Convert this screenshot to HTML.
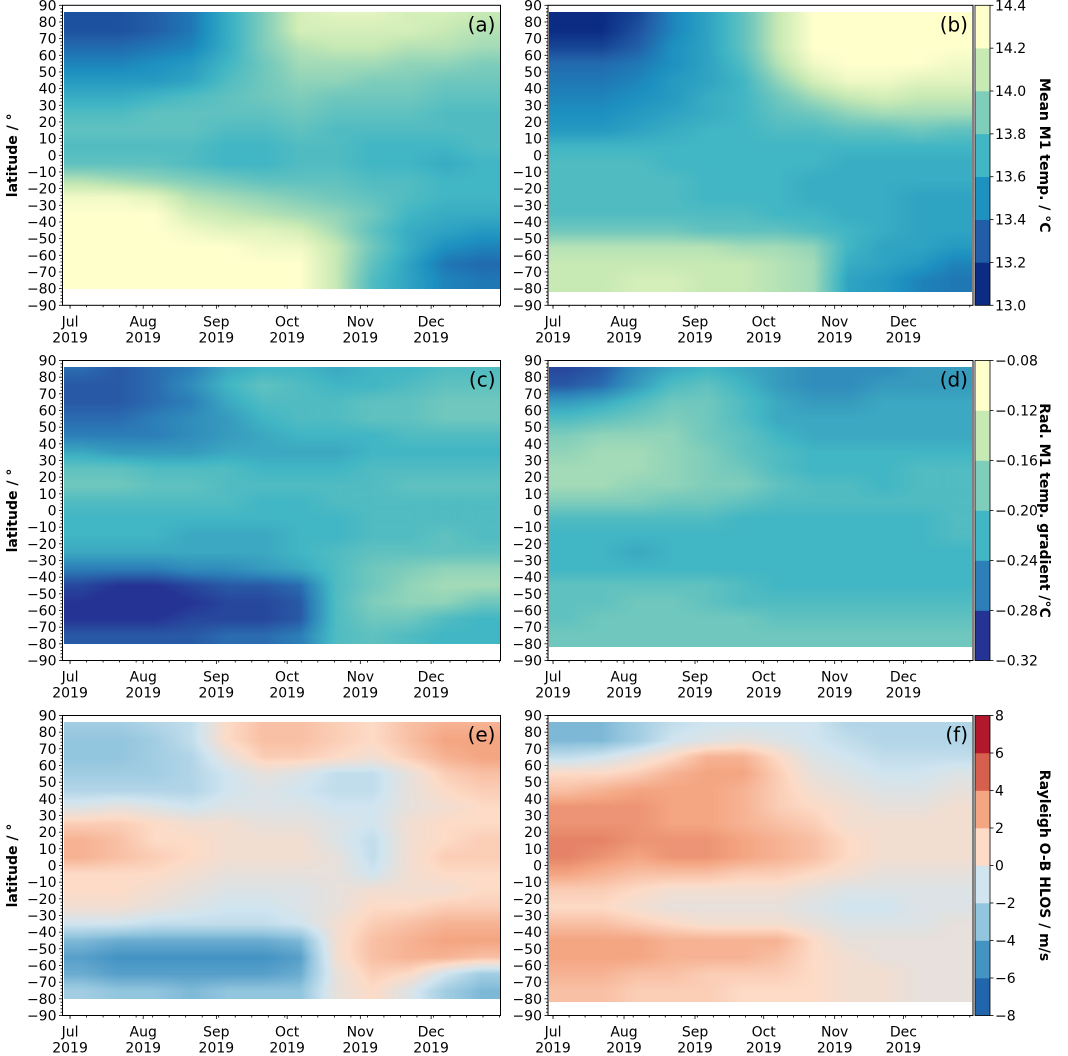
<!DOCTYPE html>
<html><head><meta charset="utf-8">
<style>
html,body{margin:0;padding:0;background:#fff;}
#wrap{position:relative;width:1068px;height:1056px;overflow:hidden;font-family:"DejaVu Sans","Liberation Sans",sans-serif;}
canvas{position:absolute;}
svg{position:absolute;left:0;top:0;}
</style></head>
<body>
<div id="wrap">
<svg id="ov" width="1068" height="1056"></svg>
</div>
<script>
// ---------- data ----------
const latRows = [85,75,65,55,45,35,25,15,5,-5,-15,-25,-35,-45,-55,-65,-75];
const timeCols = ["Jul-a","Jul-b","Aug-a","Aug-b","Sep-a","Sep-b","Oct-a","Oct-b","Nov-a","Nov-b","Dec-a","Dec-b"];
const monthTicks = ["Jul","Aug","Sep","Oct","Nov","Dec"];
const monthTickDays = [0,31,62,92,123,153];
const yTicks = [90,80,70,60,50,40,30,20,10,0,-10,-20,-30,-40,-50,-60,-70,-80,-90];
const cbTicksTemp = ["13.0","13.2","13.4","13.6","13.8","14.0","14.2","14.4"];
const cbTicksGrad = ["-0.32","-0.28","-0.24","-0.20","-0.16","-0.12","-0.08"];
const cbTicksHlos = ["-8","-6","-4","-2","0","2","4","6","8"];

const panelAValues = [
[13.25,13.25,13.3,13.4,13.65,13.9,14.15,14.2,14.2,14.15,14.15,14.1],
[13.25,13.25,13.3,13.4,13.65,13.9,14.15,14.15,14.15,14.15,14.1,14.05],
[13.35,13.35,13.4,13.45,13.65,13.9,14.05,14.1,14.1,14.05,14.05,14.0],
[13.45,13.45,13.5,13.55,13.7,13.85,14.0,14.0,14.0,13.95,13.95,13.9],
[13.55,13.55,13.55,13.6,13.75,13.85,13.95,13.95,13.9,13.9,13.85,13.85],
[13.65,13.65,13.7,13.75,13.8,13.85,13.9,13.85,13.85,13.85,13.8,13.8],
[13.75,13.75,13.8,13.8,13.8,13.8,13.85,13.8,13.8,13.8,13.75,13.75],
[13.8,13.8,13.8,13.8,13.75,13.75,13.8,13.75,13.75,13.75,13.75,13.75],
[13.75,13.75,13.75,13.75,13.7,13.7,13.75,13.75,13.7,13.7,13.7,13.75],
[13.8,13.8,13.8,13.75,13.7,13.7,13.75,13.75,13.7,13.7,13.65,13.7],
[14.05,14.0,13.95,13.9,13.85,13.8,13.8,13.8,13.75,13.75,13.7,13.7],
[14.25,14.25,14.2,14.05,14.0,13.95,13.9,13.85,13.8,13.75,13.7,13.7],
[14.3,14.3,14.3,14.15,14.1,14.05,14.0,13.95,13.85,13.7,13.65,13.65],
[14.3,14.3,14.3,14.25,14.2,14.2,14.15,14.0,13.8,13.65,13.6,13.55],
[14.3,14.3,14.3,14.3,14.3,14.25,14.25,14.1,13.85,13.65,13.5,13.45],
[14.3,14.3,14.3,14.3,14.3,14.3,14.3,14.1,13.8,13.6,13.4,13.35],
[14.3,14.3,14.3,14.3,14.3,14.3,14.3,14.1,13.75,13.6,13.45,13.4]];

const panelBValues = [
[13.1,13.1,13.2,13.45,13.6,13.8,14.1,14.3,14.3,14.3,14.3,14.3],
[13.1,13.1,13.25,13.45,13.6,13.8,14.1,14.3,14.3,14.3,14.3,14.3],
[13.2,13.2,13.3,13.5,13.6,13.8,14.1,14.3,14.3,14.3,14.3,14.3],
[13.35,13.35,13.4,13.5,13.6,13.75,14.05,14.25,14.3,14.3,14.3,14.25],
[13.4,13.4,13.45,13.55,13.6,13.7,13.95,14.15,14.25,14.25,14.2,14.2],
[13.45,13.45,13.5,13.55,13.65,13.7,13.85,14.0,14.1,14.15,14.1,14.1],
[13.5,13.5,13.55,13.6,13.65,13.7,13.8,13.85,13.95,14.0,14.0,14.0],
[13.55,13.55,13.6,13.65,13.7,13.7,13.75,13.75,13.8,13.8,13.85,13.8],
[13.7,13.7,13.7,13.7,13.7,13.7,13.7,13.7,13.7,13.7,13.7,13.7],
[13.75,13.75,13.75,13.7,13.7,13.7,13.7,13.7,13.65,13.65,13.65,13.65],
[13.75,13.75,13.75,13.75,13.7,13.7,13.7,13.65,13.65,13.65,13.65,13.65],
[13.75,13.75,13.75,13.75,13.7,13.7,13.7,13.65,13.65,13.65,13.6,13.6],
[13.75,13.75,13.75,13.75,13.75,13.75,13.7,13.7,13.65,13.65,13.6,13.6],
[13.85,13.85,13.85,13.85,13.8,13.8,13.8,13.75,13.7,13.65,13.6,13.6],
[14.05,14.05,14.05,14.05,14.05,14.0,14.0,13.95,13.7,13.6,13.6,13.55],
[14.1,14.1,14.1,14.1,14.1,14.1,14.05,14.0,13.65,13.6,13.55,13.45],
[14.1,14.1,14.15,14.15,14.1,14.1,14.05,14.0,13.6,13.55,13.45,13.4]];

const panelCValues = [
[-0.27,-0.28,-0.27,-0.26,-0.23,-0.22,-0.22,-0.23,-0.22,-0.22,-0.21,-0.21],
[-0.28,-0.28,-0.27,-0.25,-0.22,-0.20,-0.21,-0.22,-0.22,-0.21,-0.20,-0.20],
[-0.28,-0.28,-0.27,-0.26,-0.23,-0.21,-0.21,-0.21,-0.20,-0.20,-0.19,-0.19],
[-0.27,-0.27,-0.26,-0.25,-0.24,-0.22,-0.21,-0.21,-0.20,-0.20,-0.19,-0.19],
[-0.26,-0.26,-0.26,-0.25,-0.24,-0.23,-0.22,-0.22,-0.22,-0.21,-0.21,-0.21],
[-0.23,-0.24,-0.24,-0.24,-0.23,-0.23,-0.23,-0.23,-0.22,-0.22,-0.22,-0.22],
[-0.20,-0.20,-0.21,-0.21,-0.21,-0.22,-0.22,-0.22,-0.21,-0.21,-0.21,-0.21],
[-0.19,-0.19,-0.20,-0.20,-0.21,-0.21,-0.21,-0.21,-0.21,-0.20,-0.20,-0.20],
[-0.21,-0.21,-0.21,-0.21,-0.21,-0.22,-0.22,-0.21,-0.21,-0.21,-0.21,-0.21],
[-0.22,-0.22,-0.22,-0.22,-0.22,-0.22,-0.22,-0.22,-0.21,-0.21,-0.21,-0.21],
[-0.22,-0.22,-0.22,-0.23,-0.23,-0.23,-0.22,-0.22,-0.21,-0.21,-0.20,-0.21],
[-0.23,-0.23,-0.23,-0.23,-0.23,-0.23,-0.22,-0.21,-0.20,-0.20,-0.20,-0.20],
[-0.26,-0.26,-0.26,-0.25,-0.25,-0.24,-0.23,-0.21,-0.19,-0.18,-0.17,-0.17],
[-0.29,-0.30,-0.30,-0.29,-0.28,-0.28,-0.27,-0.21,-0.19,-0.17,-0.16,-0.16],
[-0.30,-0.31,-0.31,-0.30,-0.29,-0.29,-0.28,-0.21,-0.18,-0.17,-0.17,-0.19],
[-0.30,-0.30,-0.30,-0.29,-0.29,-0.29,-0.28,-0.21,-0.19,-0.19,-0.21,-0.22],
[-0.28,-0.28,-0.28,-0.28,-0.27,-0.27,-0.26,-0.21,-0.20,-0.21,-0.22,-0.22]];

const panelDValues = [
[-0.29,-0.28,-0.25,-0.23,-0.22,-0.23,-0.24,-0.25,-0.25,-0.25,-0.24,-0.24],
[-0.28,-0.27,-0.24,-0.21,-0.20,-0.22,-0.24,-0.25,-0.25,-0.24,-0.24,-0.24],
[-0.24,-0.23,-0.21,-0.19,-0.19,-0.21,-0.23,-0.24,-0.24,-0.23,-0.23,-0.23],
[-0.21,-0.20,-0.19,-0.18,-0.19,-0.21,-0.23,-0.23,-0.23,-0.23,-0.23,-0.23],
[-0.18,-0.17,-0.17,-0.17,-0.19,-0.20,-0.22,-0.23,-0.23,-0.23,-0.23,-0.23],
[-0.17,-0.16,-0.16,-0.17,-0.18,-0.20,-0.21,-0.22,-0.22,-0.22,-0.22,-0.22],
[-0.16,-0.16,-0.16,-0.17,-0.18,-0.19,-0.21,-0.22,-0.22,-0.22,-0.21,-0.21],
[-0.16,-0.16,-0.17,-0.17,-0.18,-0.18,-0.20,-0.21,-0.21,-0.22,-0.21,-0.21],
[-0.18,-0.18,-0.18,-0.19,-0.19,-0.20,-0.21,-0.21,-0.21,-0.21,-0.21,-0.21],
[-0.21,-0.21,-0.21,-0.21,-0.21,-0.22,-0.22,-0.22,-0.22,-0.22,-0.22,-0.21],
[-0.22,-0.22,-0.22,-0.22,-0.22,-0.22,-0.22,-0.22,-0.22,-0.22,-0.22,-0.21],
[-0.22,-0.22,-0.23,-0.22,-0.22,-0.22,-0.22,-0.22,-0.22,-0.22,-0.22,-0.22],
[-0.22,-0.22,-0.22,-0.22,-0.22,-0.22,-0.22,-0.22,-0.22,-0.22,-0.22,-0.22],
[-0.20,-0.20,-0.20,-0.20,-0.20,-0.21,-0.22,-0.22,-0.22,-0.22,-0.22,-0.22],
[-0.20,-0.20,-0.19,-0.19,-0.20,-0.21,-0.21,-0.21,-0.21,-0.21,-0.21,-0.21],
[-0.20,-0.19,-0.19,-0.19,-0.19,-0.19,-0.20,-0.20,-0.20,-0.20,-0.20,-0.20],
[-0.19,-0.19,-0.19,-0.19,-0.19,-0.19,-0.19,-0.19,-0.19,-0.19,-0.19,-0.19]];

const panelEValues = [
[-2.5,-2.5,-2.0,-1.5,1.0,2.0,2.0,1.5,1.0,2.0,2.5,2.5],
[-3.0,-3.0,-2.5,-1.5,1.0,2.0,2.0,1.5,1.0,2.0,3.0,3.0],
[-3.0,-3.0,-2.5,-2.0,0.0,1.5,1.5,1.0,0.5,1.5,2.5,3.0],
[-2.5,-2.5,-2.5,-2.0,-1.0,0.0,-0.5,-1.5,-1.5,0.0,1.5,2.0],
[-2.0,-2.0,-2.0,-2.0,-1.0,-0.5,-1.0,-1.5,-1.5,0.0,1.0,1.5],
[-0.5,0.0,-0.5,-1.0,-0.5,-0.5,-0.5,-1.0,-1.0,0.0,0.5,1.0],
[1.5,1.5,1.0,0.5,0.5,0.0,0.0,-0.5,-1.0,0.5,1.0,1.0],
[2.5,2.0,1.0,1.0,0.5,0.5,0.5,-0.5,-1.5,0.5,1.0,1.5],
[2.5,2.0,1.5,1.0,0.5,0.5,0.5,0.0,-1.5,0.5,1.5,1.5],
[1.0,1.0,1.0,0.5,0.0,0.0,0.0,0.0,-1.0,0.5,1.0,1.0],
[1.0,1.0,0.5,0.0,-0.5,-0.5,-0.5,0.0,0.5,0.5,0.5,1.0],
[0.5,0.5,0.0,-0.5,-1.0,-1.0,-0.5,0.0,1.0,1.0,1.5,1.5],
[-1.0,-1.0,-1.5,-1.5,-1.5,-1.5,-1.0,0.5,1.5,2.0,2.5,2.5],
[-3.5,-4.0,-4.0,-4.0,-4.0,-4.0,-3.5,0.5,2.0,2.5,3.0,3.0],
[-4.5,-5.0,-5.0,-5.0,-5.0,-5.0,-4.5,0.5,2.0,2.5,2.5,2.0],
[-4.0,-4.5,-4.5,-4.5,-4.5,-4.5,-4.0,0.0,1.5,1.0,-1.0,-2.5],
[-2.5,-3.0,-3.0,-3.5,-3.0,-3.0,-3.0,0.0,1.0,-0.5,-2.5,-3.5]];

const panelFValues = [
[-3.5,-3.5,-2.5,-1.5,-1.0,-1.0,-1.0,-1.0,-2.0,-2.0,-2.0,-2.0],
[-3.5,-3.5,-2.5,-1.0,-0.5,0.0,-0.5,-1.0,-1.5,-2.0,-2.0,-2.0],
[-1.5,-1.0,0.0,1.0,2.5,2.5,1.0,-0.5,-1.0,-1.5,-1.5,-1.5],
[1.0,1.0,1.5,2.5,3.0,3.0,1.5,0.0,-0.5,-1.0,-1.0,-0.5],
[2.0,2.5,3.0,3.0,3.0,2.5,1.5,0.5,0.0,-0.5,-0.5,0.0],
[3.5,3.5,3.5,3.0,3.0,2.5,1.5,1.0,0.5,0.0,0.0,0.5],
[3.5,3.5,3.5,3.0,3.0,2.5,2.0,1.5,0.5,0.5,0.5,0.5],
[4.0,4.0,3.5,3.5,3.5,3.0,2.5,2.0,1.0,0.5,0.5,0.5],
[4.0,3.5,3.0,3.5,3.5,3.0,2.5,2.0,1.0,0.5,0.5,0.5],
[3.0,2.5,2.0,2.0,2.0,1.5,1.5,1.0,0.5,0.0,0.0,0.0],
[1.5,1.5,1.0,0.5,0.5,0.5,0.5,0.0,-0.5,-0.5,-0.5,-0.5],
[1.0,1.0,0.5,0.0,0.0,0.0,0.0,-0.5,-1.0,-1.0,-0.5,-0.5],
[2.0,2.0,1.5,1.0,0.5,0.5,0.5,0.0,-0.5,-0.5,-0.5,0.0],
[3.0,3.0,3.0,2.5,2.5,2.5,2.5,1.0,0.0,0.0,0.0,0.0],
[3.0,3.0,3.0,2.5,2.5,2.5,2.0,1.0,0.5,0.0,0.0,0.0],
[2.5,2.5,2.0,2.0,1.5,1.5,1.5,1.0,0.5,0.5,0.0,0.0],
[2.0,2.0,1.5,1.5,1.5,1.0,1.0,1.0,0.5,0.5,0.0,0.0]];

// ---------- styles / geometry ----------
const cmapTemp = ["#0c2c84","#225ea8","#1d91c0","#41b6c4","#7fcdbb","#c7e9b4","#ffffcc"];
const cmapGrad = ["#253494","#2c7fb8","#41b6c4","#7fcdbb","#c7e9b4","#ffffcc"];
const cmapHlos = ["#2166ac","#4393c3","#92c5de","#d1e5f0","#fddbc7","#f4a582","#d6604d","#b2182b"];
const colX = [[62.5,500.5],[548,973]];
const colDays = [[-3.2,182.4],[-2.2,183.4]];
const rowTop = [5.3,360.5,715.5];
const axH = 300;

const panels = [
 {name:"panel-a",letter:"(a)",row:0,col:0,vals:panelAValues,vmin:13.0,vmax:14.4,cmap:cmapTemp,latBot:-80},
 {name:"panel-b",letter:"(b)",row:0,col:1,vals:panelBValues,vmin:13.0,vmax:14.4,cmap:cmapTemp,latBot:-82},
 {name:"panel-c",letter:"(c)",row:1,col:0,vals:panelCValues,vmin:-0.32,vmax:-0.08,cmap:cmapGrad,latBot:-80},
 {name:"panel-d",letter:"(d)",row:1,col:1,vals:panelDValues,vmin:-0.32,vmax:-0.08,cmap:cmapGrad,latBot:-82},
 {name:"panel-e",letter:"(e)",row:2,col:0,vals:panelEValues,vmin:-8,vmax:8,cmap:cmapHlos,latBot:-80},
 {name:"panel-f",letter:"(f)",row:2,col:1,vals:panelFValues,vmin:-8,vmax:8,cmap:cmapHlos,latBot:-82}
];
const cbars = [
 {row:0,cmap:cmapTemp,ticks:cbTicksTemp,title:"Mean M1 temp. / °C"},
 {row:1,cmap:cmapGrad,ticks:cbTicksGrad,title:"Rad. M1 temp. gradient /°C"},
 {row:2,cmap:cmapHlos,ticks:cbTicksHlos,title:"Rayleigh O-B HLOS / m/s"}
];

function hex(c){return [parseInt(c.substr(1,2),16),parseInt(c.substr(3,2),16),parseInt(c.substr(5,2),16)];}
function colorFor(v,p){
  const n=p.cmap.length;
  let f=(v-p.vmin)/(p.vmax-p.vmin)*n-0.5;
  f=Math.max(0,Math.min(n-1,f));
  const i=Math.floor(f), t=f-i, a=hex(p.cmap[i]), b=hex(p.cmap[Math.min(n-1,i+1)]);
  return [a[0]+(b[0]-a[0])*t,a[1]+(b[1]-a[1])*t,a[2]+(b[2]-a[2])*t];
}
function sample(vals,fx,lat){
  const nc=timeCols.length;
  let cx=fx*nc-0.5; cx=Math.max(0,Math.min(nc-1,cx));
  let ry=(latRows[0]-lat)/(latRows[0]-latRows[1]); ry=Math.max(0,Math.min(latRows.length-1,ry));
  const c0=Math.floor(cx),c1=Math.min(nc-1,c0+1),tx=cx-c0;
  const r0=Math.floor(ry),r1=Math.min(latRows.length-1,r0+1),ty=ry-r0;
  const a=vals[r0][c0]*(1-tx)+vals[r0][c1]*tx;
  const b=vals[r1][c0]*(1-tx)+vals[r1][c1]*tx;
  return a*(1-ty)+b*ty;
}
const NS="http://www.w3.org/2000/svg";
const svg=document.getElementById('ov');
const wrap=document.getElementById('wrap');
function el(tag,attrs,parent){const e=document.createElementNS(NS,tag);for(const k in attrs)e.setAttribute(k,attrs[k]);(parent||svg).appendChild(e);return e;}
function yOf(row,lat){return rowTop[row]+(90-lat)*axH/180;}

panels.forEach(p=>{
  const x0=colX[p.col][0],x1=colX[p.col][1];
  const yT=yOf(p.row,86), yB=yOf(p.row,p.latBot);
  const W=Math.round(x1-x0-2), H=Math.round(yB-yT);
  const cv=document.createElement('canvas');
  
  
  cv.width=W; cv.height=H;
  cv.style.left=(x0+1)+'px'; cv.style.top=yT+'px';
  wrap.insertBefore(cv,svg);
  const ctx=cv.getContext('2d'); const img=ctx.createImageData(W,H);
  for(let j=0;j<H;j++){
    const lat=86-(j+0.5)/H*(86-p.latBot);
    for(let i=0;i<W;i++){
      const v=sample(p.vals,(i+0.5)/W,lat);
      const c=colorFor(v,p); const k=(j*W+i)*4;
      img.data[k]=c[0];img.data[k+1]=c[1];img.data[k+2]=c[2];img.data[k+3]=255;
    }
  }
  ctx.putImageData(img,0,0);

  const g=el('g',{});
  
  
  const top=rowTop[p.row], bot=top+axH;
  el('rect',{x:x0,y:top,width:x1-x0,height:axH,fill:'none',stroke:'#000','stroke-width':1},g);
  for(let lat=-90;lat<=90;lat+=2){
    const y=yOf(p.row,lat); const major=lat%10===0;
    el('line',{x1:x0,x2:x0-(major?3.5:2),y1:y,y2:y,stroke:'#000','stroke-width':0.8},g);
  }
  yTicks.forEach(t=>{
    const tx=el('text',{x:x0-6,y:yOf(p.row,t)+5,'text-anchor':'end','font-size':14,fill:'#000'},g);
    tx.textContent=String(t).replace('-','\u2212');
  });
  const d0=colDays[p.col][0],d1=colDays[p.col][1];
  const xd=d=>x0+(d-d0)/(d1-d0)*(x1-x0);
  for(let d=0;d<=d1;d+=7){ if(d<d0) continue;
    el('line',{x1:xd(d),x2:xd(d),y1:bot,y2:bot+2,stroke:'#000','stroke-width':0.8},g);}
  monthTicks.forEach((m,i)=>{
    const x=xd(monthTickDays[i]);
    el('line',{x1:x,x2:x,y1:bot,y2:bot+3.5,stroke:'#000','stroke-width':0.8},g);
    const t1=el('text',{x:x,y:bot+21,'text-anchor':'middle','font-size':14},g); t1.textContent=m;
    const t2=el('text',{x:x,y:bot+37,'text-anchor':'middle','font-size':14},g); t2.textContent='2019';
  });
  const lt=el('text',{x:x1-5,y:top+26,'text-anchor':'end','font-size':20},g);
  
  
  lt.textContent=p.letter;
  if(p.col===0){
    const yl=el('text',{x:0,y:0,'text-anchor':'middle','font-size':14,'font-weight':'bold',transform:`translate(17,${top+axH/2}) rotate(-90)`},g);
    
    
    yl.textContent='latitude / °';
  }
});

cbars.forEach(c=>{
  const g=el('g',{});
  
  
  const top=rowTop[c.row], n=c.cmap.length, h=axH/n, x=975, w=15;
  c.cmap.forEach((col,i)=>{ el('rect',{x:x,y:top+axH-(i+1)*h,width:w,height:h+0.3,fill:col},g); });
  el('rect',{x:x,y:top,width:w,height:axH,fill:'none',stroke:'#000','stroke-width':0.8},g);
  c.ticks.forEach((t,i)=>{
    const y=top+axH-i*h;
    el('line',{x1:x+w,x2:x+w+3.5,y1:y,y2:y,stroke:'#000','stroke-width':0.8},g);
    const tx=el('text',{x:x+w+5,y:y+5,'font-size':14},g); tx.textContent=t.replace('-','\u2212');
  });
  const tt=el('text',{x:0,y:0,'text-anchor':'middle','font-size':14,'font-weight':'bold',transform:`translate(1040,${top+axH/2}) rotate(90)`},g);
  
  
  tt.textContent=c.title;
});
</script>
</body></html>
